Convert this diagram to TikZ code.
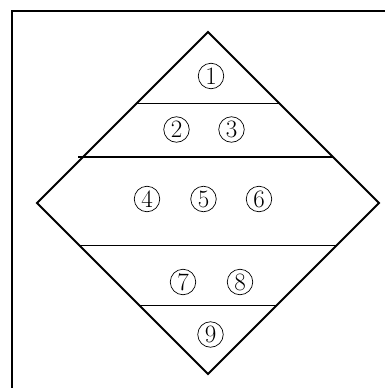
\documentclass[tikz,border=0pt]{standalone}
\usepackage{fontspec}
\setmainfont{Latin Modern Roman}
\begin{document}
\begin{tikzpicture}[x=1pt,y=-1pt,
  edge/.style={line width=1.8pt,line join=miter},
  band/.style={line width=1.7pt},
  num/.style={circle,draw,line width=0.7pt,inner sep=0pt,minimum size=25.5pt,font=\fontsize{25}{26}\selectfont}]
\useasboundingbox (0,0) rectangle (385,388);
% frame (top and left sides only)
\coordinate (FTR) at (386,11);
\coordinate (FTL) at (12,11);
\coordinate (FBL) at (12,389);
\draw[line width=1.9pt] (FTR) -- (FTL) -- (FBL);
% diamond
\coordinate (T) at (208,32);
\coordinate (L) at (37,203);
\coordinate (R) at (379,203);
\coordinate (B) at (208,374);
\draw[edge] (T) -- (R) -- (B) -- (L) -- cycle;
% bands
\coordinate (a1) at (137,103.5); \coordinate (a2) at (279,103.5);
\coordinate (b1) at (78,157);    \coordinate (b2) at (333,157);
\coordinate (c1) at (80,245.5);  \coordinate (c2) at (336,245.5);
\coordinate (d1) at (140,305.5); \coordinate (d2) at (276,305.5);
\draw[band] (a1) -- (a2);
\draw[band] (b1) -- (b2);
\draw[band] (c1) -- (c2);
\draw[band] (d1) -- (d2);
% labels
\node[num] (n1) at (211,76) {1};
\node[num] (n2) at (176.5,129.5) {2};
\node[num] (n3) at (231.5,129.5) {3};
\node[num] (n4) at (147,199) {4};
\node[num] (n5) at (203.5,199) {5};
\node[num] (n6) at (259,199) {6};
\node[num] (n7) at (183,282) {7};
\node[num] (n8) at (240,282) {8};
\node[num] (n9) at (210.5,334.5) {9};
\end{tikzpicture}
\end{document}
